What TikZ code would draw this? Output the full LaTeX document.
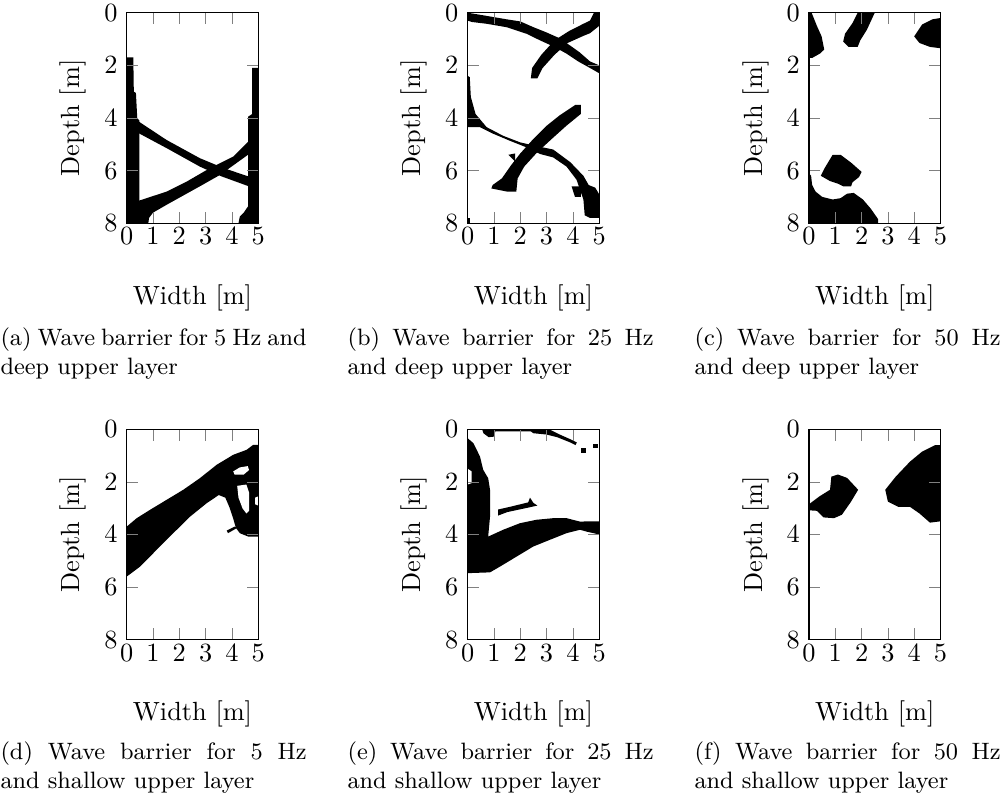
\documentclass[tikz,border=0pt]{standalone}
\usepackage{tikz}
\usetikzlibrary{calc}
\tikzset{
  barrier/.style={fill=black},
  hole/.style={fill=white},
  axtick/.style={very thin, gray},
  ticklab/.style={font=\normalsize},
  axlab/.style={font=\normalsize},
  subcap/.style={font=\small, text width=4.09cm, align=justify, inner sep=0pt, anchor=base west},
  panel/.style={x=0.3514cm, y=-0.3514cm},
}
% ticks, tick labels and axis labels of one panel (width 0..5, depth 0..8)
\newcommand{\barrierframe}[1]{%
  \foreach \xw in {0,...,5} {
    \draw[axtick] (\xw,8) -- ++(0,0.15cm);
    \draw[axtick] (\xw,0) -- ++(0,-0.15cm);
    \node[ticklab, anchor=north, inner sep=1.5pt] (#1-x\xw) at (\xw,8) {$\xw$};
  }
  \foreach \yd in {0,2,...,8} {
    \draw[axtick] (0,\yd) -- ++(0.15cm,0);
    \draw[axtick] (5,\yd) -- ++(-0.15cm,0);
    \node[ticklab, anchor=east] (#1-y\yd) at (0,\yd) {$\yd$};
  }
  \draw (0,0) rectangle (5,8);
  \node[axlab, rotate=90] (#1-depth) at (-2.03,4) {Depth [m]};
  \node[axlab] (#1-width) at (2.5,10.83) {Width [m]};
}

\begin{document}
\begin{tikzpicture}
  \useasboundingbox (0,0) rectangle (13.36,-10.634);

  % --- (a) 5 Hz, deep upper layer ---
  \begin{scope}[xshift=1.693cm, yshift=-0.170cm, panel]
    \fill[barrier] (0,1.7) -- (0.25,1.7) -- (0.27,3.0) -- (0.35,3.05) -- (0.4,4.0)
      -- (0.48,4.1) -- (0.48,8) -- (0,8) -- cycle;
    \fill[barrier] (0.4,4.1) -- (1.52,4.84) -- (2.78,5.53) -- (3.67,5.9) -- (4.7,6.25)
      -- (4.7,6.62) -- (3.6,6.22) -- (2.78,5.85) -- (1.52,5.15) -- (0.4,4.55) -- cycle;
    \fill[barrier] (0.45,7.15) -- (1.52,6.8) -- (2.28,6.42) -- (3.16,5.91) -- (4.05,5.47)
      -- (4.62,4.9) -- (4.75,4.85) -- (4.75,5.3) -- (3.54,6.17) -- (2.78,6.6) -- (1.52,7.3)
      -- (1.0,7.6) -- (0.85,7.8) -- (0.82,8) -- (0.45,8) -- cycle;
    \fill[barrier] (4.77,2.1) -- (5,2.1) -- (5,8) -- (4.25,8) -- (4.3,7.75) -- (4.45,7.6)
      -- (4.62,7.35) -- (4.62,3.95) -- (4.77,3.85) -- cycle;
    \barrierframe{a}
  \end{scope}

  % --- (b) 25 Hz, deep upper layer ---
  \begin{scope}[xshift=6.248cm, yshift=-0.170cm, panel]
    \fill[barrier] (0,0) -- (0.72,0.12) -- (1.48,0.25) -- (2.0,0.33) -- (2.5,0.55)
      -- (3.0,0.75) -- (3.45,0.95) -- (3.9,1.25) -- (4.25,1.5) -- (4.65,1.85) -- (5,2.0)
      -- (5,2.3) -- (4.65,2.1) -- (4.2,1.85) -- (3.75,1.55) -- (3.3,1.3) -- (2.75,1.05)
      -- (2.24,0.8) -- (1.48,0.55) -- (0.72,0.42) -- (0.15,0.35) -- (0,0.3) -- cycle;
    \fill[barrier] (4.8,0) -- (5,0) -- (5,0.5) -- (4.65,0.78) -- (4.4,0.88) -- (3.8,1.15)
      -- (3.3,1.6) -- (2.85,2.1) -- (2.65,2.5) -- (2.4,2.5) -- (2.45,2.1) -- (2.8,1.6)
      -- (3.3,1.05) -- (3.85,0.7) -- (4.4,0.42) -- (4.65,0.3) -- cycle;
    \fill[barrier] (0,2.4) -- (0.08,2.45) -- (0.12,3.2) -- (0.3,3.85) -- (0.72,4.35)
      -- (1.35,4.68) -- (2.0,4.93) -- (2.62,5.07) -- (3.25,5.2) -- (3.9,5.68) -- (4.4,6.2)
      -- (4.6,6.55) -- (4.85,6.65) -- (5,6.9) -- (5,7.8) -- (4.65,7.8) -- (4.45,7.7)
      -- (4.4,7.1) -- (4.14,6.35) -- (3.76,5.85) -- (3.25,5.5) -- (2.75,5.37) -- (2.24,5.12)
      -- (1.61,4.87) -- (0.97,4.6) -- (0.47,4.35) -- (0,4.35) -- cycle;
    \fill[barrier] (3.95,6.6) -- (4.3,6.6) -- (4.3,7.0) -- (4.08,7.0) -- cycle;
    \fill[barrier] (4.1,3.5) -- (4.3,3.5) -- (4.3,3.85) -- (3.75,4.3) -- (3.25,4.75)
      -- (2.65,5.3) -- (2.15,5.85) -- (1.9,6.3) -- (1.85,6.8) -- (1.5,6.8) -- (0.9,6.68)
      -- (0.95,6.55) -- (1.3,6.3) -- (1.65,5.8) -- (2.0,5.35) -- (2.45,4.85) -- (3.0,4.3)
      -- (3.5,3.9) -- cycle;
    \fill[barrier] (1.55,5.4) -- (1.8,5.35) -- (1.8,5.65) -- cycle;
    \fill[barrier] (0,7.8) rectangle (0.1,8);
    \barrierframe{b}
  \end{scope}

  % --- (c) 50 Hz, deep upper layer ---
  \begin{scope}[xshift=10.808cm, yshift=-0.170cm, panel]
    \fill[barrier] (0,0) -- (0.1,0) -- (0.3,0.5) -- (0.48,0.9) -- (0.58,1.4) -- (0.42,1.55)
      -- (0.12,1.72) -- (0,1.72) -- cycle;
    \fill[barrier] (1.85,0) -- (2.5,0) -- (2.2,0.65) -- (1.95,1.05) -- (1.85,1.3)
      -- (1.5,1.3) -- (1.3,1.1) -- (1.37,0.8) -- (1.65,0.4) -- cycle;
    \fill[barrier] (4.0,0.9) -- (4.3,0.45) -- (4.7,0.25) -- (5,0.2) -- (5,1.35)
      -- (4.6,1.3) -- (4.2,1.15) -- cycle;
    \fill[barrier] (0.9,5.4) -- (1.2,5.4) -- (1.6,5.7) -- (2.0,6.05) -- (1.9,6.25)
      -- (1.65,6.45) -- (1.6,6.6) -- (1.3,6.6) -- (1.1,6.5) -- (0.8,6.4) -- (0.45,6.2)
      -- (0.6,5.9) -- cycle;
    \fill[barrier] (0,6.1) -- (0.08,6.2) -- (0.12,6.55) -- (0.25,6.8) -- (0.5,7.0)
      -- (0.9,7.1) -- (1.2,7.05) -- (1.45,6.88) -- (1.7,6.85) -- (2.05,7.1) -- (2.35,7.45)
      -- (2.63,7.85) -- (2.63,8) -- (0,8) -- cycle;
    \barrierframe{c}
  \end{scope}

  % --- (d) 5 Hz, shallow upper layer ---
  \begin{scope}[xshift=1.693cm, yshift=-5.735cm, panel]
    \fill[barrier] (0,3.7) -- (0.38,3.38) -- (0.89,3.06) -- (1.52,2.68) -- (2.15,2.3)
      -- (2.78,1.86) -- (3.42,1.35) -- (4.05,0.97) -- (4.56,0.78) -- (4.81,0.59) -- (5,0.59)
      -- (5,4.08) -- (4.62,4.08) -- (4.3,3.95) -- (4.15,3.75) -- (4.05,3.4) -- (3.9,2.95)
      -- (3.75,2.6) -- (3.5,2.5) -- (3.04,2.81) -- (2.41,3.32) -- (1.77,3.95) -- (1.14,4.58)
      -- (0.51,5.22) -- (0,5.6) -- cycle;
    \fill[barrier] (3.8,3.85) -- (4.1,3.7) -- (4.2,3.75) -- (3.85,3.95) -- cycle;
    \fill[hole] (4.05,1.6) -- (4.3,1.45) -- (4.6,1.4) -- (4.65,1.55) -- (4.45,1.72)
      -- (4.1,1.72) -- cycle;
    \fill[hole] (4.2,2.15) -- (4.55,2.1) -- (4.65,2.4) -- (4.65,3.1) -- (4.55,3.2)
      -- (4.4,3.0) -- (4.25,2.6) -- cycle;
    \fill[hole] (5,2.55) -- (4.88,2.6) -- (4.88,2.85) -- (5,2.9) -- cycle;
    \barrierframe{d}
  \end{scope}

  % --- (e) 25 Hz, shallow upper layer ---
  \begin{scope}[xshift=6.248cm, yshift=-5.735cm, panel]
    \fill[barrier] (0,0.34) -- (0.22,0.53) -- (0.47,1.04) -- (0.59,1.54) -- (0.78,1.86)
      -- (0.85,2.3) -- (0.85,3.32) -- (0.78,4.08) -- (1.35,3.82) -- (1.99,3.57) -- (2.62,3.44)
      -- (3.25,3.38) -- (3.76,3.38) -- (4.27,3.51) -- (4.65,3.5) -- (5,3.5) -- (5,4.0)
      -- (4.52,3.89) -- (4.27,3.82) -- (3.76,3.95) -- (3.13,4.2) -- (2.49,4.46) -- (1.86,4.84)
      -- (1.23,5.22) -- (0.85,5.44) -- (0,5.47) -- cycle;
    \fill[hole] (0,1.5) -- (0.15,1.6) -- (0.15,2.05) -- (0,2.1) -- cycle;
    \fill[barrier] (1.16,3.05) -- (1.6,2.95) -- (2.3,2.78) -- (2.37,2.6) -- (2.5,2.8)
      -- (2.65,2.9) -- (2.2,3.0) -- (1.5,3.15) -- (1.16,3.28) -- cycle;
    \fill[barrier] (0.55,0) -- (3.1,0) -- (3.5,0.2) -- (3.95,0.4) -- (4.15,0.5) -- (4.1,0.6)
      -- (3.9,0.5) -- (3.4,0.3) -- (3.0,0.2) -- (2.5,0.15) -- (2.4,0.08) -- (1.05,0.08)
      -- (1.0,0.28) -- (0.8,0.3) -- (0.6,0.15) -- cycle;
    \fill[barrier] (4.3,0.72) rectangle (4.5,0.92);
    \fill[barrier] (4.75,0.55) rectangle (4.95,0.7);
    \barrierframe{e}
  \end{scope}

  % --- (f) 50 Hz, shallow upper layer ---
  \begin{scope}[xshift=10.808cm, yshift=-5.735cm, panel]
    \fill[barrier] (0,2.85) -- (0.4,2.55) -- (0.8,2.3) -- (0.85,1.8) -- (1.1,1.72)
      -- (1.45,1.85) -- (1.87,2.3) -- (1.6,2.75) -- (1.25,3.25) -- (0.95,3.38)
      -- (0.55,3.35) -- (0.3,3.1) -- (0,3.08) -- cycle;
    \fill[barrier] (2.9,2.3) -- (3.3,1.8) -- (3.84,1.23) -- (4.3,0.85) -- (4.8,0.6)
      -- (5,0.6) -- (5,3.5) -- (4.6,3.55) -- (4.2,3.2) -- (3.84,2.95) -- (3.4,2.95)
      -- (3.0,2.75) -- cycle;
    \barrierframe{f}
  \end{scope}

  % --- captions ---
  \node[subcap] (capA) at (0,-4.615) {(a) Wave barrier for 5 Hz and\linebreak deep upper layer};
  \node[subcap] (capB) at (4.636,-4.615) {(b) Wave barrier for 25 Hz\linebreak and deep upper layer};
  \node[subcap] (capC) at (9.272,-4.615) {(c) Wave barrier for 50 Hz\linebreak and deep upper layer};
  \node[subcap] (capD) at (0,-10.15) {(d) Wave barrier for 5 Hz\linebreak and shallow upper layer};
  \node[subcap] (capE) at (4.636,-10.15) {(e) Wave barrier for 25 Hz\linebreak and shallow upper layer};
  \node[subcap] (capF) at (9.272,-10.15) {(f) Wave barrier for 50 Hz\linebreak and shallow upper layer};
\end{tikzpicture}
\end{document}
